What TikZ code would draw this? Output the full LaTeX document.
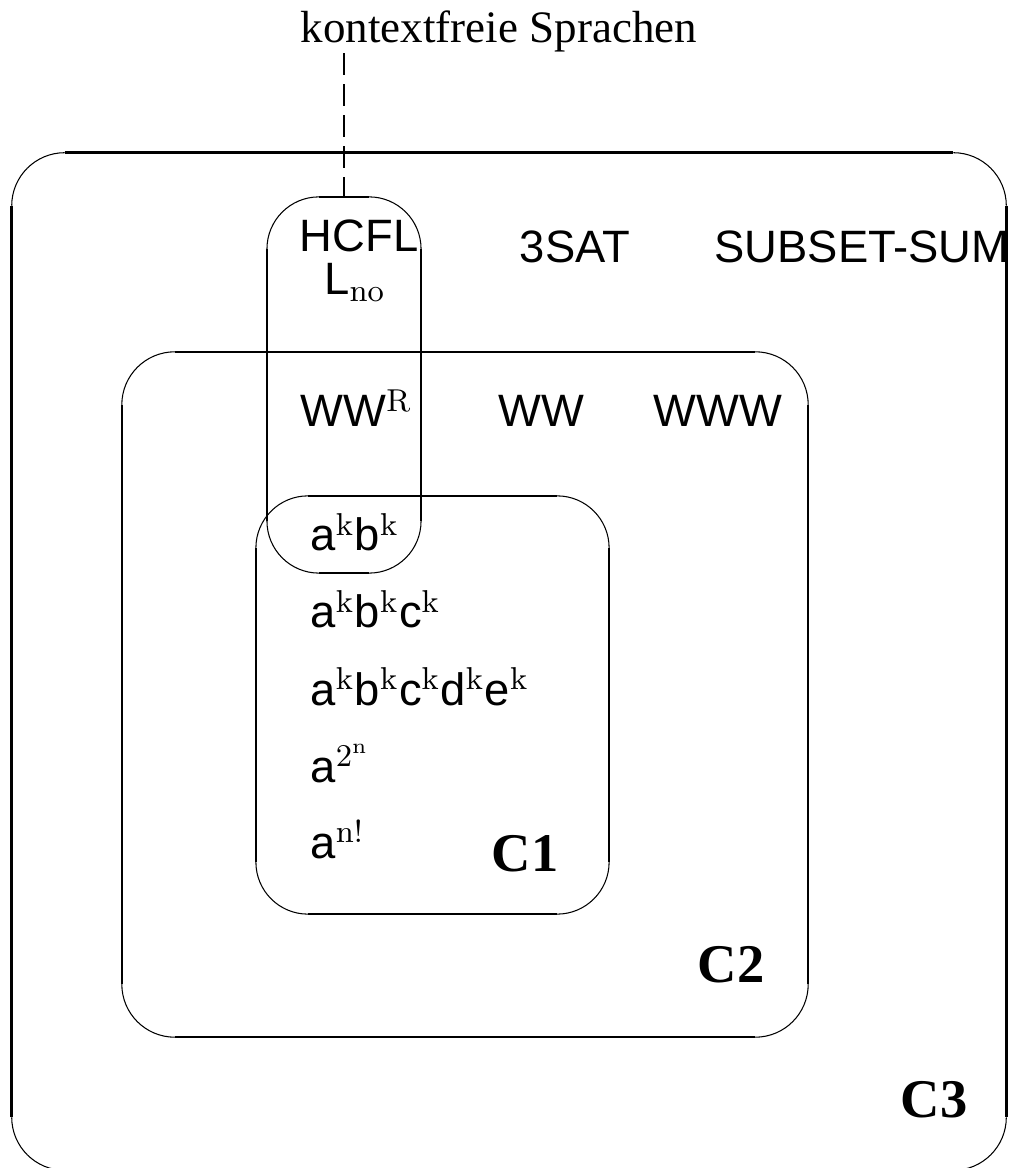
\documentclass[tikz,border=0pt]{standalone}
\usepackage[no-math]{fontspec}
\setmainfont{Liberation Serif}
\setsansfont{Liberation Sans}
\usetikzlibrary{positioning, calc}
\tikzstyle{Region} = [inner sep=0pt, outer sep=0pt]
\tikzstyle{Arc} = [line width=0.3pt]
\tikzstyle{Word} = [font=\sffamily\fontsize{12.9}{15}\selectfont, inner sep=0pt, anchor=base]
\tikzstyle{Class} = [font=\rmfamily\bfseries\fontsize{15.5}{18}\selectfont, inner sep=0pt, anchor=base]
\tikzstyle{Dash} = [line width=0.6pt, dash pattern=on 0.22cm off 0.09cm]
\newcommand{\xfigbox}[3]{%
  \draw[line width=#3]
    ([xshift=#2]#1.north west) -- ([xshift=-#2]#1.north east)
    ([yshift=-#2]#1.north east) -- ([yshift=#2]#1.south east)
    ([xshift=-#2]#1.south east) -- ([xshift=#2]#1.south west)
    ([yshift=#2]#1.south west) -- ([yshift=-#2]#1.north west);
  \draw[Arc]
    ([xshift=-#2]#1.north east) arc[start angle=90, end angle=0, radius=#2]
    ([yshift=#2]#1.south east) arc[start angle=0, end angle=-90, radius=#2]
    ([xshift=#2]#1.south west) arc[start angle=270, end angle=180, radius=#2]
    ([yshift=-#2]#1.north west) arc[start angle=180, end angle=90, radius=#2];
}

\begin{document}
\begin{tikzpicture}[x=0.01cm, y=-0.01cm]
    \useasboundingbox (0,0) rectangle (1012,1168);
    \node [Region, minimum width=9.94cm, minimum height=10.17cm] (1) at (509,661.5) {};
    \node [Region, minimum width=6.86cm, minimum height=6.85cm] (2) at (465,694.5) {};
    \node [Region, minimum width=3.53cm, minimum height=4.18cm] (3) at (432.5,705) {};
    \node [Region, minimum width=1.54cm, minimum height=3.76cm] (4) at (344,385) {};

    \xfigbox{1}{0.53cm}{0.85pt}
    \xfigbox{2}{0.53cm}{0.6pt}
    \xfigbox{3}{0.52cm}{0.6pt}
    \xfigbox{4}{0.52cm}{0.6pt}

    \node [font=\rmfamily\fontsize{12.8}{15}\selectfont, inner sep=0pt, anchor=base] (5) at (499,43) {kontextfreie Sprachen};
    \node [Word] (6) at (359,252) {HCFL};
    \node [Word] (7) at (355,295) {L$_{\mathrm{no}}$};
    \node [Word] (8) at (575,263) {3SAT};
    \node [Word] (9) at (862,263) {SUBSET-SUM};
    \node [Word, anchor=base west] (10) at (300,427) {WW$^{\mathrm{R}}$};
    \node [Word] (11) at (541,427) {WW};
    \node [Word] (12) at (718,427) {WWW};
    \node [Word, anchor=base west] (13) at (310,551) {a$^{\mathrm{k}}$b$^{\mathrm{k}}$};
    \node [Word, anchor=base west] (14) at (310,628) {a$^{\mathrm{k}}$b$^{\mathrm{k}}$c$^{\mathrm{k}}$};
    \node [Word, anchor=base west] (15) at (310,705) {a$^{\mathrm{k}}$b$^{\mathrm{k}}$c$^{\mathrm{k}}$d$^{\mathrm{k}}$e$^{\mathrm{k}}$};
    \node [Word, anchor=base west] (16) at (310,782) {a$^{2^{\mathrm{n}}}$};
    \node [Word, anchor=base west] (17) at (310,858) {a$^{\mathrm{n!}}$};
    \node [Class] (18) at (525,871) {C1};
    \node [Class] (19) at (731,982) {C2};
    \node [Class] (20) at (934,1117) {C3};

    \draw[Dash] (5.south -| 4.north) -- (4.north);
\end{tikzpicture}
\end{document}
